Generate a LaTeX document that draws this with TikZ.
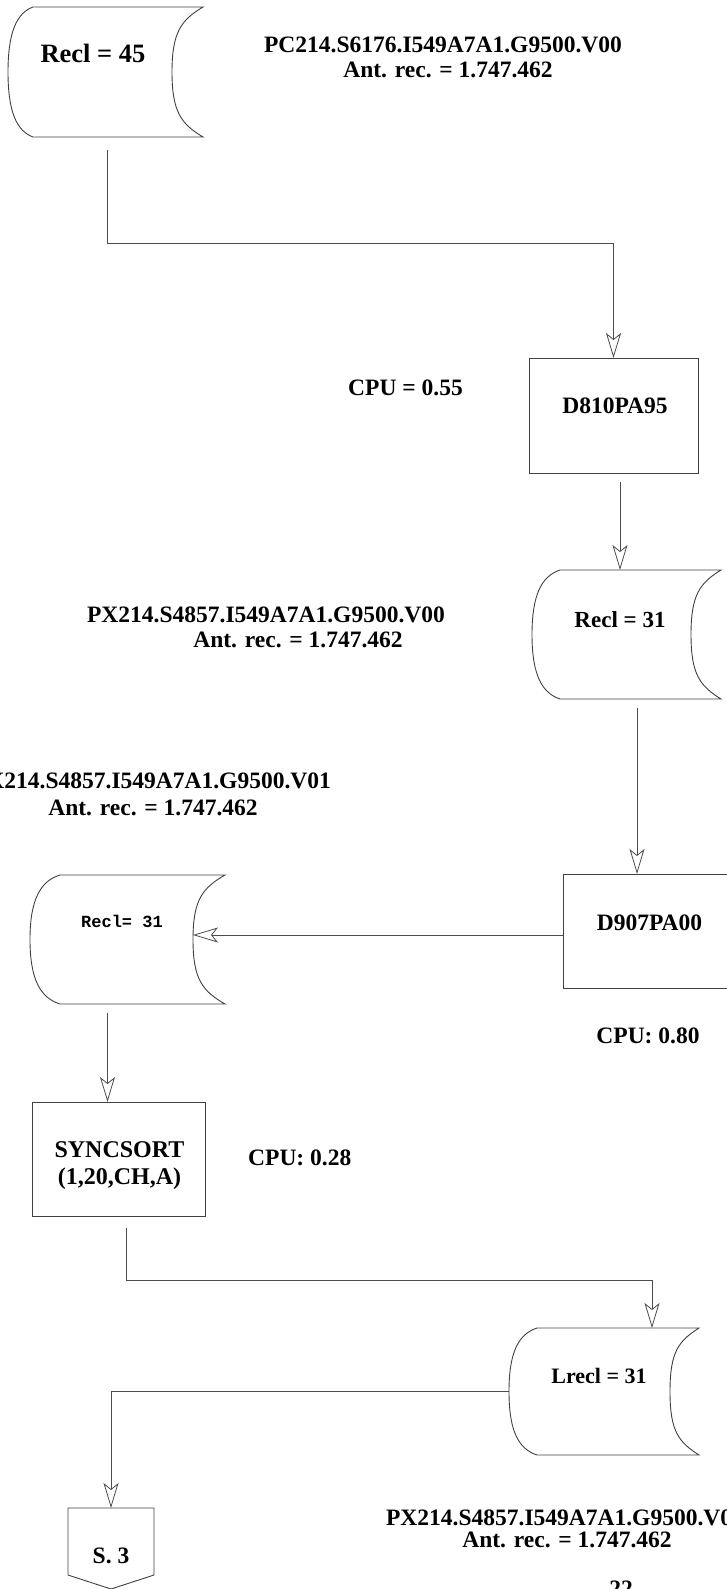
\documentclass[tikz,border=0pt]{standalone}
\usepackage{fontspec}
\setmainfont{Liberation Serif}
\setmonofont{Liberation Mono}
\usetikzlibrary{arrows.meta,calc}

\tikzset{
  shapeline/.style={draw=black!75, line width=0.9bp},
  conn/.style={draw=black!70, line width=0.8bp,
    -{Stealth[open, length=25bp, width=15bp, inset=6bp]}},
  blank/.style={draw=none, inner sep=0pt, outer sep=0pt},
  procbox/.style={shapeline, inner sep=0pt, outer sep=0pt},
  txt/.style={inner sep=0pt, font=\bfseries\fontsize{23.5bp}{28bp}\selectfont},
}

\newcommand\storageoutline[3]{%
  \draw[shapeline] ($(#1.north west)+(#2,0)$) -- (#1.north east)
    .. controls +(-0.7*#3,13) and +(0,-40) .. ($(#1.east)+(-#3,0)$)
    .. controls +(0,40) and +(-0.7*#3,-13) .. (#1.south east)
    -- ($(#1.south west)+(#2,0)$)
    .. controls +(-0.65*#2,-6) and +(0,40) .. (#1.west)
    .. controls +(0,-40) and +(-0.65*#2,6) .. ($(#1.north west)+(#2,0)$);}

\begin{document}
\begin{tikzpicture}[x=1bp, y=-1bp]
\useasboundingbox (0,0) rectangle (727,1589);
\clip (0,0) rectangle (727,1589);

% storage shapes
\node[blank, minimum width=195bp, minimum height=130bp] (s1) at (105.5,72) {};
\node[blank, minimum width=189bp, minimum height=129bp] (s2) at (626.5,634.5) {};
\node[blank, minimum width=195bp, minimum height=129bp] (s3) at (127.5,939.5) {};
\node[blank, minimum width=190bp, minimum height=127bp] (s4) at (604,1391.5) {};
\storageoutline{s1}{25}{31}
\storageoutline{s2}{28}{30}
\storageoutline{s3}{30}{32}
\storageoutline{s4}{28}{29}
\coordinate (s3in) at ($(s3.east)+(-32,0)$);

% process boxes
\node[procbox, minimum width=169bp, minimum height=115bp] (p1) at (613.5,415.5) {};
\node[procbox, minimum width=169bp, minimum height=114bp] (p2) at (647.5,931) {};
\node[procbox, minimum width=173bp, minimum height=114bp] (p3) at (118.5,1159) {};

% off-page connector
\node[blank, minimum width=86bp, minimum height=67bp] (c3) at (111,1541.5) {};
\draw[shapeline] (c3.north west) -- (c3.north east) -- (c3.south east)
  -- ($(c3.south)+(0,14)$) -- (c3.south west) -- cycle;

% texts in shapes
\node[txt, anchor=base, font=\bfseries\fontsize{26.5bp}{30bp}\selectfont] (t1) at (93,63) {Recl = 45};
\node[txt, anchor=base, font=\bfseries\fontsize{23bp}{28bp}\selectfont] (t2) at (620,627) {Recl = 31};
\node[txt, anchor=base, font=\ttfamily\bfseries\fontsize{17bp}{20bp}\selectfont] (t3) at (122,927) {Recl= 31};
\node[txt, anchor=base, font=\bfseries\fontsize{22bp}{26bp}\selectfont] (t4) at (599,1383) {Lrecl = 31};
\node[txt, anchor=base] (tp1) at (615,413) {D810PA95};
\node[txt, anchor=base] (tp2) at (649.5,930) {D907PA00};
\node[txt, anchor=base, font=\bfseries\fontsize{24bp}{28bp}\selectfont] (tp3a) at (119.5,1157) {SYNCSORT};
\node[txt, anchor=base, font=\bfseries\fontsize{24bp}{28bp}\selectfont] (tp3b) at (119.5,1184) {(1,20,CH,A)};
\node[txt, anchor=base] (tc3) at (111,1563) {S. 3};

% CPU labels
\node[txt, anchor=base west] (cpu1) at (348,395) {CPU = 0.55};
\node[txt, anchor=base] (cpu2) at (648,1043) {CPU: 0.80};
\node[txt, anchor=base west] (cpu3) at (248,1165) {CPU: 0.28};

% dataset labels
\node[txt, anchor=base] (l1a) at (443,53) {PC214.S6176.I549A7A1.G9500.V00};
\node[txt, anchor=base] (l1b) at (448,78) {Ant. rec. = 1.747.462};
\node[txt, anchor=base] (l2a) at (266,622) {PX214.S4857.I549A7A1.G9500.V00};
\node[txt, anchor=base] (l2b) at (298,647) {Ant. rec. = 1.747.462};
\node[txt, anchor=base] (l3a) at (152,788) {PX214.S4857.I549A7A1.G9500.V01};
\node[txt, anchor=base] (l3b) at (153,815) {Ant. rec. = 1.747.462};
\node[txt, anchor=base] (l4a) at (565,1525) {PX214.S4857.I549A7A1.G9500.V02};
\node[txt, anchor=base] (l4b) at (567,1547) {Ant. rec. = 1.747.462};
\node[txt, anchor=base] (pg) at (621,1596) {22};

% connectors
\draw[conn, shorten <=13bp] ([xshift=1.5bp]s1.south) -- ++(0,106) -| (p1.north);
\draw[conn, shorten <=9bp] ([xshift=6.5bp]p1.south) -- ([xshift=6.5bp]p1.south |- s2.north);
\draw[conn, shorten <=9bp] ([xshift=10.5bp]s2.south) -- ([xshift=10.5bp]s2.south |- p2.north);
\draw[conn] ([yshift=-4bp]p2.west) -- ([yshift=-4bp]p2.west -| s3in);
\draw[conn, shorten <=9bp] ([xshift=-20bp]s3.south) -- ([xshift=-20bp]s3.south |- p3.north);
\draw[conn, shorten <=12bp] ([xshift=7.5bp]p3.south) -- ++(0,64) -| ([xshift=48bp]s4.north);
\draw[conn] (s4.west) -| (c3.north);
\end{tikzpicture}
\end{document}
